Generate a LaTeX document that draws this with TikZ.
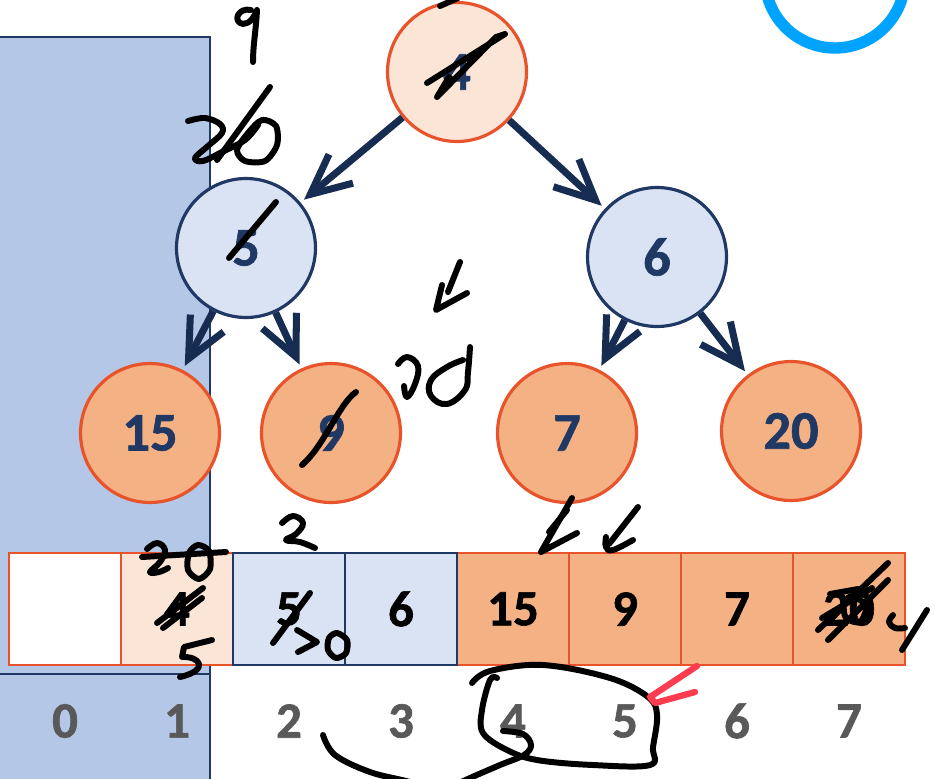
\documentclass[tikz,border=0pt]{standalone}
\usepackage{fontspec}
\setmainfont{Carlito}[BoldFeatures={FakeBold=1.2}]
\usetikzlibrary{arrows.meta}

\definecolor{navy}{HTML}{1F3864}
\definecolor{arrowblue}{HTML}{172C51}
\definecolor{redorange}{HTML}{E9532B}
\definecolor{peach}{HTML}{FBE5D6}
\definecolor{salmon}{HTML}{F4B183}
\definecolor{paleblue}{HTML}{DAE3F3}
\definecolor{panelblue}{HTML}{B4C7E7}
\definecolor{idxgray}{HTML}{595959}
\definecolor{ringblue}{HTML}{00A3FF}
\definecolor{inkred}{HTML}{FF3B4F}

\tikzset{
  heap/.style={circle, minimum size=2.78cm, inner sep=0pt, line width=1.8pt,
    font=\bfseries\fontsize{31}{33}\selectfont, text=navy},
  peachheap/.style={heap, draw=redorange, fill=peach},
  blueheap/.style={heap, draw=navy, fill=paleblue},
  orangeheap/.style={heap, draw=redorange, fill=salmon},
  edge/.style={draw=arrowblue, line width=4pt,
    -{Straight Barb[length=8mm, width=7.5mm]}, shorten >=2.5pt},
  cell/.style={rectangle, minimum width=2.24cm, minimum height=2.24cm,
    inner sep=0pt, line width=1.2pt, font=\bfseries\fontsize{29}{31}\selectfont},
  emptycell/.style={cell, draw=redorange, fill=white},
  peachcell/.style={cell, draw=redorange, fill=peach},
  bluecell/.style={cell, draw=navy, fill=paleblue},
  orangecell/.style={cell, draw=redorange, fill=salmon},
  idx/.style={font=\bfseries\fontsize{29}{31}\selectfont, text=idxgray},
  pen/.style={line width=3.4pt, line cap=round, line join=round, black},
  redpen/.style={line width=3.6pt, line cap=round, line join=round, inkred},
}

\begin{document}
\begin{tikzpicture}[x=0.02cm, y=-0.02cm]
\useasboundingbox (0,0) rectangle (935,778);
\clip (0,0) rectangle (935,778);

% shaded panel on the left
\fill[panelblue] (-5,37) rectangle (210,790);
\draw[navy, line width=1.2pt] (-5,37) -- (210,37) -- (210,790);
\draw[navy, line width=1.2pt] (-5,674) -- (210,674);

% ring in the top right corner
\draw[ringblue, line width=6.5pt] (835,-22) circle (70);

% heap as a tree
\node[peachheap] (root) at (457,72) {4};
\node[blueheap] (n5) at (246,248) {5};
\node[blueheap] (n6) at (657,257) {6};
\node[orangeheap] (l15) at (150,433) {15};
\node[orangeheap] (l9) at (331,433) {9};
\node[orangeheap] (l7) at (567,433) {7};
\node[orangeheap] (l20) at (791,431) {20};

\draw[edge] (root) -- (n5);
\draw[edge] (root) -- (n6);
\draw[edge] (n5) -- (l15);
\draw[edge] (n5) -- (l9);
\draw[edge] (n6) -- (l7);
\draw[edge] (n6) -- (l20);

% heap as an array
\node[emptycell]  (c0) at (65,609)  {};
\node[peachcell]  (c1) at (177,609) {4};
\node[orangecell] (c4) at (513,609) {15};
\node[orangecell] (c5) at (625,609) {9};
\node[orangecell] (c6) at (737,609) {7};
\node[orangecell] (c7) at (849,609) {20};
\node[bluecell]   (c2) at (289,609) {5};
\node[bluecell]   (c3) at (401,609) {6};

\node[idx] (i0) at (65,721)  {0};
\node[idx] (i1) at (177,721) {1};
\node[idx] (i2) at (289,721) {2};
\node[idx] (i3) at (401,721) {3};
\node[idx] (i4) at (513,721) {4};
\node[idx] (i5) at (625,721) {5};
\node[idx] (i6) at (737,721) {6};
\node[idx] (i7) at (849,721) {7};

% ---- pen notes ----
% "9" and crossed "20" above the left subtree
\draw[pen] (251,10) .. controls (238,7) and (232,22) .. (243,24)
  .. controls (250,24) and (255,16) .. (257,10)
  .. controls (256,30) and (253,45) .. (253,62);
\draw[pen] plot[smooth, tension=0.6] coordinates
  {(188,121) (205,118) (220,124) (222,133) (208,146) (195,158) (203,161) (222,152) (245,140) (258,125)};
\draw[pen] plot[smooth cycle] coordinates
  {(262,120) (276,126) (277,145) (265,161) (245,161) (237,150) (248,133)};
\draw[pen] (270,87) -- (217,160);

% strokes over the root
\draw[pen] (427,83) -- (505,34) -- (496,37) -- (437,97) -- (449,77);
\draw[pen] (440,6) -- (458,-2);

% stroke over 5
\draw[pen] (229,258) -- (276,202);

% tick and "20" between the subtrees
\draw[pen] (460,262) -- (448,292);
\draw[pen] (442,285) -- (436,310) -- (467,293);
\draw[pen] plot[smooth, tension=0.7] coordinates
  {(398,364) (407,357) (418,366) (415,384) (407,397) (404,386)};
\draw[pen] plot[smooth, tension=0.7] coordinates
  {(470,347) (468,372) (465,390) (447,404) (431,396) (431,380) (447,367) (463,360)};

% stroke over 9
\draw[pen] (302,465) .. controls (325,445) and (338,405) .. (356,392);

% arrows down to the array
\draw[pen] (572,498) -- (541,552) -- (577,533);
\draw[pen] (567,510) -- (549,532);
\draw[pen] (638,507) -- (609,544);
\draw[pen] plot[smooth, tension=0.7] coordinates {(606,537) (606,547) (613,550) (633,540)};

% notes on cell 1
\draw[pen] plot[smooth, tension=0.7] coordinates
  {(147,549) (157,543) (165,550) (160,562) (150,572) (159,572) (168,568)};
\draw[pen] plot[smooth cycle] coordinates
  {(198,545) (209,551) (210,569) (199,579) (188,570) (189,553)};
\draw[pen] (142,557) -- (226,552);
\draw[pen] (157,623) -- (203,588);
\draw[pen] (163,628) -- (202,598);
\draw[pen] (212,640) -- (184,647) -- (182,657)
  .. controls (200,656) and (210,670) .. (180,677);

% notes on cell 2
\draw[pen] plot[smooth, tension=0.7] coordinates
  {(282,523) (293,516) (303,523) (296,534) (286,540) (300,542) (315,548)};
\draw[pen] (273,643) -- (310,593);
\draw[pen] (297,630) -- (317,642) -- (298,652);
\draw[pen] plot[smooth cycle] coordinates
  {(337,633) (347,640) (346,653) (336,658) (328,650) (329,638)};

% scribble over cell 7
\draw[pen] (818,630) -- (888,563);
\draw[pen] (828,640) -- (888,580);
\draw[pen] (822,618) -- (872,588);
\draw[pen] (830,594) -- (858,589);
\draw[pen] plot[smooth cycle] coordinates {(852,596) (866,606) (860,622) (846,618) (844,604)};
\draw[pen] plot[smooth, tension=0.7] coordinates {(893,615) (889,622) (895,628) (905,628)};
\draw[pen] (902,650) -- (927,610);

% loop round indices 4 and 5, curve from 2
\draw[pen] plot[smooth, tension=0.6] coordinates
  {(472,683) (490,671) (543,665) (610,678) (648,697) (657,715) (653,747) (650,765)
   (593,765) (537,760) (507,750) (483,733) (482,710) (490,680) (497,678)};
\draw[pen] plot[smooth, tension=0.6] coordinates
  {(503,731) (523,734) (531,745) (524,755) (500,765) (470,778) (440,792)};
\draw[pen] plot[smooth, tension=0.6] coordinates
  {(323,735) (335,755) (370,772) (410,782) (440,792)};

% red arrow
\draw[redpen] (697,666) -- (650,697) -- (655,703) -- (695,692);
\end{tikzpicture}
\end{document}
